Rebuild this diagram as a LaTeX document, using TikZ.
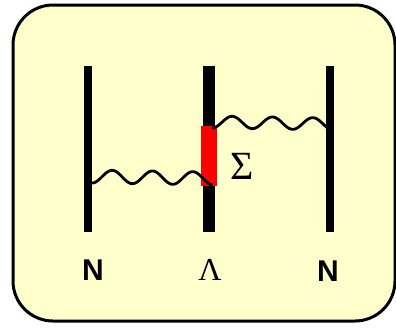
\documentclass[tikz,border=0pt]{standalone}
\usepackage{fontspec}
\newfontfamily\labelsans{Liberation Sans}
\newfontfamily\greekserif{Liberation Serif}
\definecolor{bgyellow}{HTML}{FFFFCC}
\tikzset{
  frame/.style={draw=black,line width=3pt,fill=bgyellow,rounded corners=40pt},
  thinline/.style={line width=8pt,draw=black},
  thickline/.style={line width=12pt,draw=black},
  wave/.style={line width=2.8pt,draw=black,line join=round},
  nlabel/.style={font=\labelsans\bfseries\fontsize{30}{31}\selectfont,inner sep=0pt},
  glabel/.style={font=\greekserif\fontsize{32}{34}\selectfont,inner sep=0pt},
  slabel/.style={font=\greekserif\fontsize{40}{42}\selectfont,inner sep=0pt}
}
\begin{document}
\begin{tikzpicture}[x=1pt,y=-1pt]
\useasboundingbox (0,0) rectangle (396,327);
\draw[frame] (13,5) rectangle (395,321);
\coordinate (lt) at (88,66);  \coordinate (lb) at (88,232);
\coordinate (mt) at (209,66); \coordinate (mb) at (209,232);
\coordinate (rt) at (330,66); \coordinate (rb) at (330,232);
\draw[thinline] (lt) -- (lb);
\draw[thickline] (mt) -- (mb);
\draw[thinline] (rt) -- (rb);
\fill[red] (201,126) rectangle (217,186);
\draw[wave] plot[domain=0:1,samples=150,smooth] ({92+121*\x},{183+2*\x-6.5*(1-cos(1080*\x))});
\draw[wave] plot[domain=0:1,samples=150,smooth] ({212+121*\x},{128+2*\x-6*(1-cos(1080*\x))});
\node[nlabel] (n1) at (93,270) {N};
\node[glabel] (lam) at (210,270) {Λ};
\node[nlabel] (n2) at (328,271) {N};
\node[slabel] (sig) at (242,166) {Σ};
\end{tikzpicture}
\end{document}
